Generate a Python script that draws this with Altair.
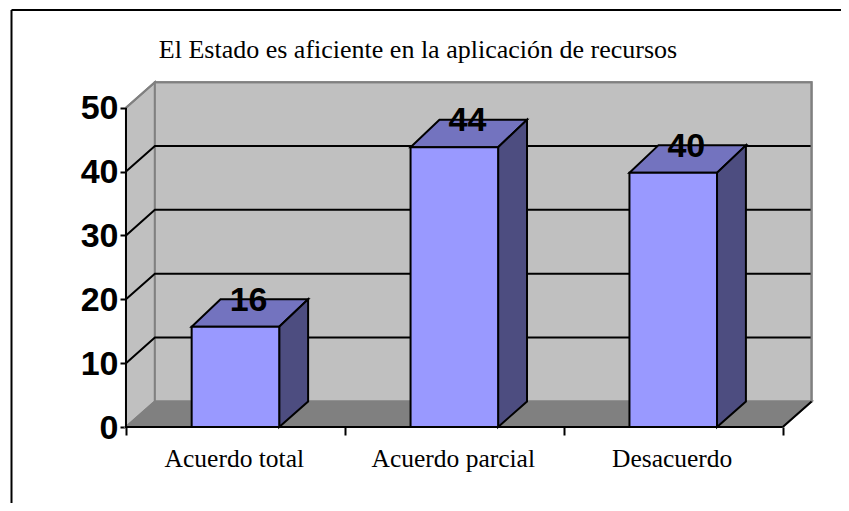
import altair as alt
import pandas as pd

title_text = ["El Estado es aficiente en la aplicación de recursos"]
categories = ["Acuerdo total", "Acuerdo parcial", "Desacuerdo"]
bar_heights = [15.7, 43.8, 39.8]
bar_labels = ["16", "44", "40"]
y_ticks = [0, 10, 20, 30, 40, 50]
x_ticks = [0, 1, 2, 3]
grid_levels = [10, 20, 30, 40]

W, H = 833, 495
DX, DY, DY_TOP, BAR = 0.132, 4.0, 4.3, 0.4
YMAX = 50
NUM_FONT = "Liberation Sans"
TXT_FONT = "Liberation Serif"

sx = alt.Scale(domain=[-0.539, 3.2664], range=[0, W], nice=False, zero=False)
sy = alt.Scale(domain=[-11.90, 65.61], range=[H, 0], nice=False, zero=False)


def X(f="x"):
    return alt.X(f"{f}:Q", scale=sx, axis=None, title=None)


def Y(f="y"):
    return alt.Y(f"{f}:Q", scale=sy, axis=None, title=None)


X2 = alt.X2("x2:Q")
Y2 = alt.Y2("y2:Q")


def vface(rows, fill, stroke="#000000", sw=2):
    return alt.Chart(pd.DataFrame(rows)).mark_area(
        orient="vertical", fill=fill, stroke=stroke, strokeWidth=sw, strokeJoin="miter"
    ).encode(x=X(), y=Y(), y2=Y2, detail="f:N")


def hface(rows, fill, stroke="#000000", sw=2):
    return alt.Chart(pd.DataFrame(rows)).mark_area(
        orient="horizontal", fill=fill, stroke=stroke, strokeWidth=sw, strokeJoin="miter"
    ).encode(y=Y(), x=X(), x2=X2, detail="f:N")


def polyline(rows, color, sw=2):
    return alt.Chart(pd.DataFrame(rows)).mark_line(color=color, strokeWidth=sw).encode(
        x=X(), y=Y(), detail="f:N", order="o:Q"
    )


layers = []

# side wall, back wall, floor
layers.append(vface([
    {"f": 0, "x": 0, "y": 0, "y2": YMAX},
    {"f": 0, "x": DX, "y": DY, "y2": YMAX + DY},
], "#C0C0C0", "#808080"))
layers.append(alt.Chart(pd.DataFrame([{"x": DX, "x2": 3 + DX, "y": DY, "y2": YMAX + DY}]))
              .mark_rect(fill="#C0C0C0", stroke="#808080", strokeWidth=2)
              .encode(x=X(), x2=X2, y=Y(), y2=Y2))
layers.append(hface([
    {"f": 0, "y": 0, "x": 0, "x2": 3},
    {"f": 0, "y": DY, "x": DX, "x2": 3 + DX},
], "#808080", "#808080"))

# grid on walls
grid_rows = []
for g in grid_levels:
    grid_rows += [
        {"f": g, "o": 0, "x": 0, "y": g},
        {"f": g, "o": 1, "x": DX, "y": g + DY},
        {"f": g, "o": 2, "x": 3 + DX, "y": g + DY},
    ]
layers.append(polyline(grid_rows, "#000000"))
layers.append(polyline([
    {"f": 0, "o": 0, "x": 0, "y": YMAX},
    {"f": 0, "o": 1, "x": DX, "y": YMAX + DY},
    {"f": 0, "o": 2, "x": 3 + DX, "y": YMAX + DY},
    {"f": 0, "o": 3, "x": 3 + DX, "y": DY},
], "#808080"))
layers.append(polyline([
    {"f": 0, "o": 0, "x": 3, "y": 0},
    {"f": 0, "o": 1, "x": 3 + DX, "y": DY},
], "#000000"))

# bars
for i, h in enumerate(bar_heights):
    c = i + 0.5
    l, r = c - BAR / 2, c + BAR / 2
    layers.append(hface([
        {"f": i, "y": h, "x": l, "x2": r},
        {"f": i, "y": h + DY_TOP, "x": l + DX, "x2": r + DX},
    ], "#7373BF"))
    layers.append(vface([
        {"f": i, "x": r, "y": 0, "y2": h},
        {"f": i, "x": r + DX, "y": DY, "y2": h + DY_TOP},
    ], "#4D4D80"))
    layers.append(alt.Chart(pd.DataFrame([{"x": l, "x2": r, "y": 0, "y2": h}]))
                  .mark_rect(fill="#9999FF", stroke="#000000", strokeWidth=2)
                  .encode(x=X(), x2=X2, y=Y(), y2=Y2))

# front axis lines
layers.append(polyline([
    {"f": 0, "o": 0, "x": 0, "y": YMAX},
    {"f": 0, "o": 1, "x": 0, "y": 0},
    {"f": 0, "o": 2, "x": 3, "y": 0},
], "#000000"))

# data labels
label_df = pd.DataFrame({
    "x": [i + 0.5 + 0.06 for i in range(3)],
    "y": [h + 4.05 for h in bar_heights],
    "t": bar_labels,
})
layers.append(alt.Chart(label_df).mark_text(
    font=NUM_FONT, fontSize=34, fontWeight="bold", color="#000000", baseline="middle", align="center"
).encode(x=X(), y=Y(), text="t:N"))

# category labels
cat_df = pd.DataFrame({"x": [i + 0.495 for i in range(3)], "y": [-5.0] * 3, "t": categories})
layers.append(alt.Chart(cat_df).mark_text(
    font=TXT_FONT, fontSize=25.5, color="#000000", baseline="middle", align="center"
).encode(x=X(), y=Y(), text="t:N"))

# title
title_df = pd.DataFrame({"x": [1.334], "y": [59.0], "t": title_text})
layers.append(alt.Chart(title_df).mark_text(
    font=TXT_FONT, fontSize=26, color="#000000", baseline="middle", align="center"
).encode(x=X(), y=Y(), text="t:N"))

# frame
layers.append(alt.Chart(pd.DataFrame({"a": [0]})).mark_rule(color="#000000", strokeWidth=2).encode(
    x=alt.value(3.5), y=alt.value(2), y2=alt.value(H)))
layers.append(alt.Chart(pd.DataFrame({"a": [0]})).mark_rule(color="#000000", strokeWidth=2).encode(
    x=alt.value(3.5), x2=alt.value(W), y=alt.value(2)))

# real axes
axis_y = alt.Chart(pd.DataFrame({"v": y_ticks})).mark_point(opacity=0).encode(
    y=alt.Y("v:Q", scale=sy, title=None, axis=alt.Axis(
        values=y_ticks, orient="left", offset=-118, domain=False, grid=False,
        tickColor="#000000", tickWidth=2, tickSize=6, labelPadding=2, labelOffset=1,
        labelFont=NUM_FONT, labelFontSize=34, labelFontWeight="bold", labelColor="#000000",
        labelOverlap=False, labelFlush=False)),
    x=alt.value(0))
axis_x = alt.Chart(pd.DataFrame({"v": x_ticks})).mark_point(opacity=0).encode(
    x=alt.X("v:Q", scale=sx, title=None, axis=alt.Axis(
        values=x_ticks, orient="bottom", offset=-76, domain=False, grid=False, labels=False,
        tickColor="#000000", tickWidth=2, tickSize=8)),
    y=alt.value(0))

chart = alt.layer(axis_y, axis_x, *layers).resolve_axis(
    x="independent", y="independent"
).properties(
    width=W, height=H, padding=0, autosize=alt.AutoSizeParams(type="none"),
    background="#FFFFFF",
).configure_view(stroke=None)

chart.save("out.html", embed_options={"renderer": "svg", "actions": False})
